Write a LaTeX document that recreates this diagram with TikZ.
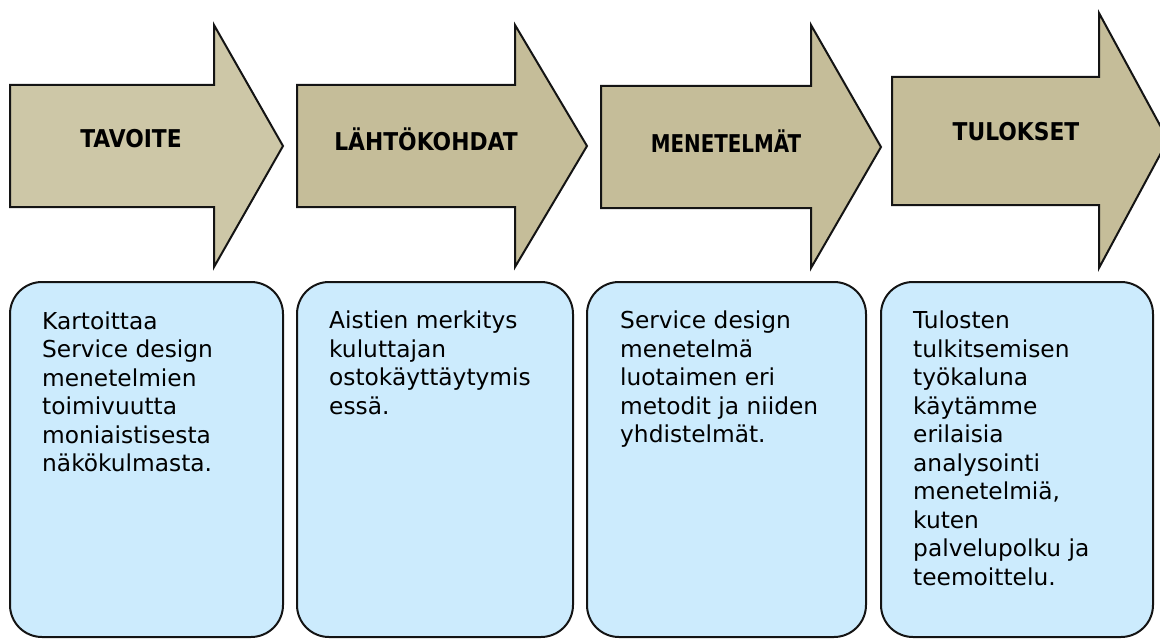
\documentclass[tikz,border=0pt]{standalone}
\usepackage{fontspec}
\setmainfont{DejaVu Sans}
\newfontfamily\headfont[FakeStretch=0.89]{DejaVu Sans}
\newfontfamily\headfontn[FakeStretch=0.81]{DejaVu Sans}
\definecolor{tanA}{RGB}{205,199,167}
\definecolor{tanB}{RGB}{197,189,153}
\definecolor{boxblue}{RGB}{204,235,253}
\definecolor{edge}{RGB}{20,20,20}
\tikzset{
  arrowshape/.style={draw=edge, line width=2pt, line join=miter},
  head/.style={font=\headfont\bfseries\fontsize{24.5}{28}\selectfont, inner sep=0pt},
  infobox/.style={draw=edge, line width=2pt, fill=boxblue, rounded corners=32pt, inner sep=0pt},
  body/.style={font=\fontsize{23.3}{28.5}\selectfont, align=left, inner sep=0pt, anchor=north west}
}
\begin{document}
\begin{tikzpicture}[x=1pt,y=-1pt]
\useasboundingbox (0,0) rectangle (1160,642);
% arrows
\draw[arrowshape, fill=tanA] (10,85) -- (214,85) -- (214,25) -- (283,146) -- (214,267) -- (214,207) -- (10,207) -- cycle;
\draw[arrowshape, fill=tanB] (297,85) -- (515,85) -- (515,25) -- (587,146) -- (515,267) -- (515,207) -- (297,207) -- cycle;
\draw[arrowshape, fill=tanB] (601,86) -- (811,86) -- (811,25) -- (881,147) -- (811,268) -- (811,208) -- (601,208) -- cycle;
\draw[arrowshape, fill=tanB] (892,77) -- (1099,77) -- (1099,13) -- (1168,140) -- (1099,268) -- (1099,205) -- (892,205) -- cycle;
% headings
\node[head] (h1) at (131,139) {TAVOITE};
\node[head] (h2) at (426,139) {LÄHTÖKOHDAT};
\node[head, font=\headfontn\bfseries\fontsize{24.5}{28}\selectfont] (h3) at (726,141) {MENETELMÄT};
\node[head] (h4) at (1016,132) {TULOKSET};
% boxes
\node[infobox, minimum width=273pt, minimum height=355pt] (b1) at (146.5,459.5) {};
\node[infobox, minimum width=276pt, minimum height=355pt] (b2) at (435,459.5) {};
\node[infobox, minimum width=279pt, minimum height=355pt] (b3) at (726.5,459.5) {};
\node[infobox, minimum width=272pt, minimum height=355pt] (b4) at (1017,459.5) {};
% texts
\node[body] (t1) at (42,311.5) {Kartoittaa\\Service design\\menetelmien\\toimivuutta\\moniaistisesta\\näkökulmasta.};
\node[body] (t2) at (329,311) {Aistien merkitys\\kuluttajan\\ostokäyttäytymis\\essä.};
\node[body] (t3) at (620,311) {Service design\\menetelmä\\luotaimen eri\\metodit ja niiden\\yhdistelmät.};
\node[body] (t4) at (913,311) {Tulosten\\tulkitsemisen\\työkaluna\\käytämme\\erilaisia\\analysointi\\menetelmiä,\\kuten\\palvelupolku ja\\teemoittelu.};
\end{tikzpicture}
\end{document}
